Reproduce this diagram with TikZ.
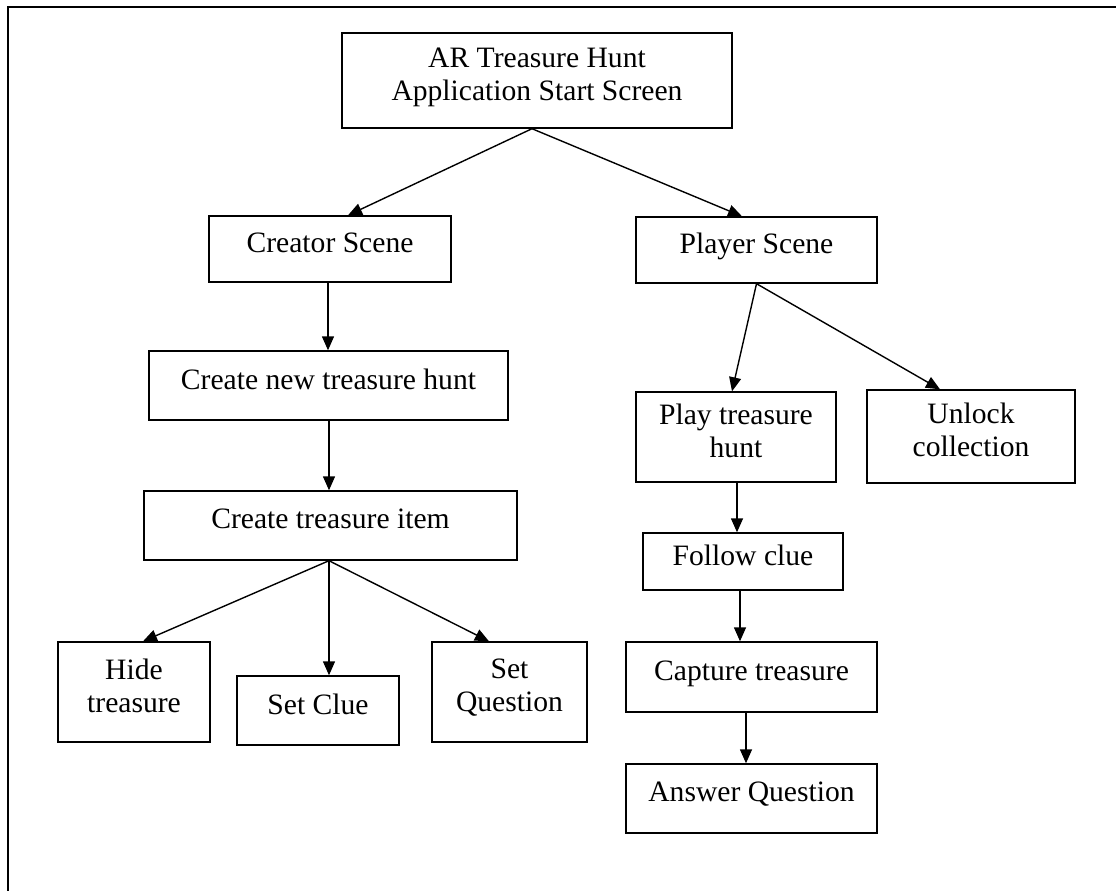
\documentclass[tikz,border=0pt]{standalone}
\usepackage{fontspec}
\setmainfont{Liberation Serif}
\usepackage{tikz}
\usetikzlibrary{arrows.meta}

\begin{document}
\begin{tikzpicture}[x=1pt,y=-1pt]
\tikzstyle{box}=[draw,rectangle,line width=1.4pt,align=center,inner sep=0pt,
  font=\fontsize{29.6}{33}\selectfont,
  execute at end node={\vrule width 0pt height 0pt depth 13pt}]
\tikzstyle{arr}=[line width=1.4pt,-{Triangle[length=14pt,width=12pt]}]
\useasboundingbox (0,0) rectangle (1116,891);
\draw[line width=2.5pt] (8,891) -- (8,7) -- (1116,7);

\node[box,minimum width=390pt,minimum height=95pt] (start) at (537,80.5) {AR Treasure Hunt\\Application Start Screen};
\node[box,minimum width=242pt,minimum height=66pt] (creator) at (330,249) {Creator Scene};
\node[box,minimum width=241pt,minimum height=66pt] (player) at (756.5,250) {Player Scene};
\node[box,minimum width=359pt,minimum height=69pt] (newhunt) at (328.5,385.5) {Create new treasure hunt};
\node[box,minimum width=373pt,minimum height=69pt] (item) at (330.5,525.5) {Create treasure item};
\node[box,minimum width=152pt,minimum height=100pt] (hide) at (134,692) {Hide\\treasure};
\node[box,minimum width=162pt,minimum height=69pt] (clue) at (318,710.5) {Set Clue};
\node[box,minimum width=155pt,minimum height=100pt] (question) at (509.5,692) {Set\\Question};
\node[box,minimum width=200pt,minimum height=90pt] (play) at (736,437) {Play treasure\\hunt};
\node[box,minimum width=208pt,minimum height=93pt] (unlock) at (971,436.5) {Unlock\\collection};
\node[box,minimum width=200pt,minimum height=57pt] (follow) at (743,561.5) {Follow clue};
\node[box,minimum width=251pt,minimum height=70pt] (capture) at (751.5,677) {Capture treasure};
\node[box,minimum width=251pt,minimum height=69pt] (answer) at (751.5,798.5) {Answer Question};

% creator side
\draw[arr] ([xshift=-5pt]start.south) -- ([xshift=18pt]creator.north);
\draw[arr] ([xshift=-2pt]creator.south) -- ([xshift=-2pt]creator.south |- newhunt.north);
\draw[arr] ([xshift=-1.5pt]item.north |- newhunt.south) -- ([xshift=-1.5pt]item.north);
\draw[arr] ([xshift=-1.5pt]item.south) -- ([xshift=9pt]hide.north);
\draw[arr] ([xshift=-1.5pt]item.south) -- ([xshift=11pt]clue.north);
\draw[arr] ([xshift=-1.5pt]item.south) -- ([xshift=-20.5pt]question.north);

% player side
\draw[arr] ([xshift=-5pt]start.south) -- ([xshift=-14.5pt]player.north);
\draw[arr] (player.south) -- ([xshift=-4pt]play.north);
\draw[arr] (player.south) -- ([xshift=-31pt]unlock.north);
\draw[arr] ([xshift=1pt]play.south) -- ([xshift=1pt]play.south |- follow.north);
\draw[arr] ([xshift=-3pt]follow.south) -- ([xshift=-3pt]follow.south |- capture.north);
\draw[arr] ([xshift=-5.5pt]capture.south) -- ([xshift=-5.5pt]capture.south |- answer.north);
\end{tikzpicture}
\end{document}
